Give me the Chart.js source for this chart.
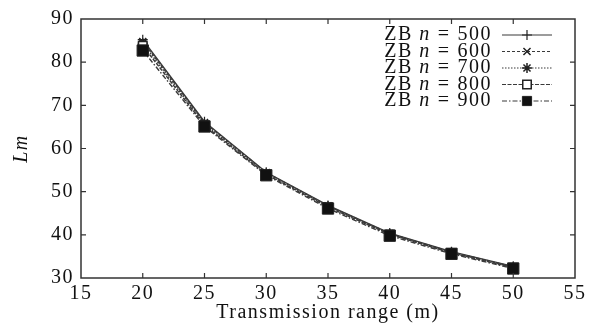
<!DOCTYPE html>
<html><head><meta charset="utf-8">
<script src="https://cdn.jsdelivr.net/npm/chart.js@4"></script>
<style>html,body{margin:0;padding:0;background:#fff}#wrap{width:590px;height:325px}</style>
</head><body><div id="wrap"><canvas id="c" width="590" height="325"></canvas></div>
<script>
const xValues = [20, 25, 30, 35, 40, 45, 50];
const seriesNames = ['500', '600', '700', '800', '900'];
const n500 = [85.2, 66.2, 54.5, 46.8, 40.4, 36.1, 32.7];
const n600 = [84.8, 66.0, 54.4, 46.7, 40.3, 36.0, 32.6];
const n700 = [84.4, 65.7, 54.2, 46.6, 40.2, 35.9, 32.5];
const n800 = [83.8, 65.4, 54.0, 46.4, 40.1, 35.8, 32.4];
const n900 = [82.7, 65.1, 53.8, 46.1, 39.8, 35.6, 32.2];
const xTicks = [15, 20, 25, 30, 35, 40, 45, 50, 55];
const yTicks = [30, 40, 50, 60, 70, 80, 90];

const styles = [
  {pt:'cross', r:5, dash:[], fill:'#333', bw:1.2},
  {pt:'crossRot', r:5, dash:[3,2], fill:'#333', bw:1.5},
  {pt:'star', r:5, dash:[1.5,1.5], fill:'#333', bw:1.5},
  {pt:'rect', r:6, dash:[4,1.5], fill:'#fff', bw:1.5},
  {pt:'rect', r:8, dash:[5,2,1.5,2], fill:'#111', bw:1}
];
const allData = [n500, n600, n700, n800, n900];
const datasets = allData.map((arr, i) => ({
  label: 'ZB n = ' + seriesNames[i],
  data: xValues.map((x, j) => ({x: x, y: arr[j]})),
  borderColor: '#3a3a3a',
  borderWidth: 1.4,
  borderDash: styles[i].dash,
  pointStyle: styles[i].pt,
  pointRadius: styles[i].r,
  pointBackgroundColor: styles[i].fill,
  pointBorderColor: '#222',
  pointBorderWidth: styles[i].bw,
  fill: false,
  order: 5 - i
}));

const serif = '"Liberation Serif", "DejaVu Serif", serif';

const spacingPlugin = {
  id: 'spacing',
  beforeDraw(chart) { chart.ctx.letterSpacing = '1.5px'; }
};

const framePlugin = {
  id: 'frame',
  afterDraw(chart) {
    const {ctx, chartArea: a, scales} = chart;
    ctx.save();
    ctx.strokeStyle = '#333';
    ctx.lineWidth = 1.5;
    ctx.setLineDash([]);
    ctx.strokeRect(a.left, a.top, a.right - a.left, a.bottom - a.top);
    ctx.lineWidth = 1.2;
    const tl = 5;
    xTicks.forEach(v => {
      const px = scales.x.getPixelForValue(v);
      if (px <= a.left + 1 || px >= a.right - 1) return;
      ctx.beginPath();
      ctx.moveTo(px, a.bottom); ctx.lineTo(px, a.bottom - tl);
      ctx.moveTo(px, a.top); ctx.lineTo(px, a.top + tl);
      ctx.stroke();
    });
    yTicks.forEach(v => {
      const py = scales.y.getPixelForValue(v);
      if (py <= a.top + 1 || py >= a.bottom - 1) return;
      ctx.beginPath();
      ctx.moveTo(a.left, py); ctx.lineTo(a.left + tl, py);
      ctx.moveTo(a.right, py); ctx.lineTo(a.right - tl, py);
      ctx.stroke();
    });
    // legend
    const rowY0 = 35, rowH = 16.5;
    const textRight = 492;
    const lineL = 502, lineR = 552, mx = 527;
    ctx.letterSpacing = '1.5px';
    ctx.textBaseline = 'middle';
    datasets.forEach((ds, i) => {
      const y = rowY0 + i * rowH;
      const regular = '20px ' + serif;
      const italic = 'italic 20px ' + serif;
      const parts = [
        {t: 'ZB ', f: regular, gap: 0},
        {t: 'n', f: italic, gap: 7},
        {t: '=', f: regular, gap: 7},
        {t: seriesNames[i], f: regular, gap: 0}
      ];
      let total = 0;
      parts.forEach(p => { ctx.font = p.f; p.w = ctx.measureText(p.t).width; total += p.w + p.gap; });
      let x = textRight - total;
      ctx.textAlign = 'left';
      ctx.fillStyle = '#111';
      parts.forEach(p => { ctx.font = p.f; ctx.fillText(p.t, x, y); x += p.w + p.gap; });
      ctx.beginPath();
      ctx.strokeStyle = '#3a3a3a';
      ctx.lineWidth = 1.2;
      ctx.setLineDash(styles[i].dash);
      ctx.moveTo(lineL, y); ctx.lineTo(lineR, y);
      ctx.stroke();
      ctx.setLineDash([]);
      ctx.fillStyle = styles[i].fill;
      ctx.strokeStyle = '#222';
      ctx.lineWidth = styles[i].bw;
      Chart.helpers.drawPoint(ctx, {
        pointStyle: styles[i].pt,
        radius: i === 4 ? 6.5 : styles[i].r,
        borderWidth: styles[i].bw,
        rotation: 0
      }, mx, y);
    });
    ctx.restore();
  }
};

new Chart(document.getElementById('c'), {
  type: 'line',
  data: {datasets},
  plugins: [spacingPlugin, framePlugin],
  options: {
    responsive: false,
    animation: false,
    devicePixelRatio: 1,
    layout: {padding: {top: 7, right: 15, left: 0, bottom: 0}},
    plugins: {legend: {display: false}, tooltip: {enabled: false}},
    scales: {
      x: {
        type: 'linear', min: 15, max: 55,
        afterBuildTicks(s) { s.ticks = xTicks.map(v => ({value: v})); },
        afterFit(s) { s.height = 47; },
        grid: {display: false, drawTicks: false},
        border: {display: false},
        ticks: {color: '#111', font: {family: serif, size: 20}, padding: 4, maxRotation: 0, autoSkip: false},
        title: {display: true, text: 'Transmission range (m)', color: '#111', font: {family: serif, size: 20}, padding: {top: 0, bottom: 0}}
      },
      y: {
        min: 30, max: 90,
        afterBuildTicks(s) { s.ticks = yTicks.map(v => ({value: v})); },
        afterFit(s) { s.width = 81; },
        grid: {display: false, drawTicks: false},
        border: {display: false},
        ticks: {color: '#111', font: {family: serif, size: 20}, padding: 7, autoSkip: false},
        title: {display: true, text: 'Lm', color: '#111', font: {family: serif, size: 20, style: 'italic'}, padding: {top: 10, bottom: 8}}
      }
    }
  }
});
</script></body></html>
